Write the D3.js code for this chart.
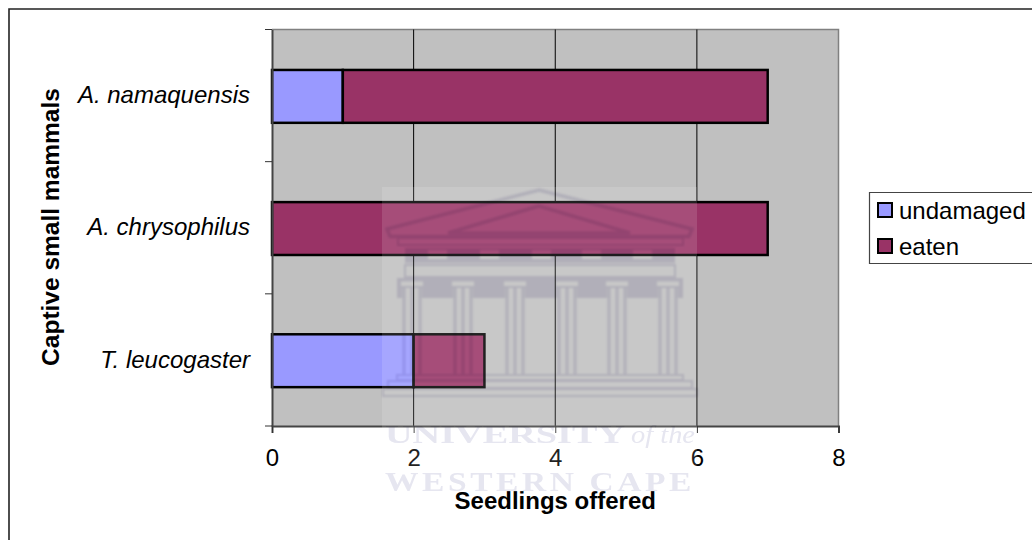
<!DOCTYPE html>
<html>
<head>
<meta charset="utf-8">
<script src="https://cdn.jsdelivr.net/npm/d3@7/dist/d3.min.js"></script>
<style>
html,body{margin:0;padding:0;background:#fff}
svg{display:block}
text{font-family:"Liberation Sans",Arial,sans-serif;fill:#000}
</style>
</head>
<body>
<svg id="chart" width="1032" height="540"></svg>
<script>
// Seedling fate per captive small mammal species
const species = ["A. namaquensis", "A. chrysophilus", "T. leucogaster"];
const undamaged = [1, 0, 2];
const eaten = [6, 7, 1];
const seriesNames = ["undamaged", "eaten"];
const seriesColors = ["#9999ff", "#993366"];
const xTickValues = [0, 2, 4, 6, 8];
const xTitle = "Seedlings offered";
const yTitle = "Captive small mammals";

const svg = d3.select("#chart");
const plot = {left: 272, right: 838.5, top: 29.5, bottom: 426};

const x = d3.scaleLinear().domain([0, 8]).range([plot.left, plot.right]);
const y = d3.scaleBand().domain(species).range([plot.top, plot.bottom])
  .paddingInner(0.6).paddingOuter(0.3);

// Outer chart frame: only the top and left edges are drawn
svg.append("path")
  .attr("d", "M9,540V9H1032")
  .attr("fill", "none").attr("stroke", "#222").attr("stroke-width", 1.6);

// Plot area
svg.append("rect")
  .attr("x", plot.left).attr("y", plot.top)
  .attr("width", plot.right - plot.left).attr("height", plot.bottom - plot.top)
  .attr("fill", "#c0c0c0");
svg.append("path")
  .attr("d", `M${plot.left},${plot.top}H${plot.right}V${plot.bottom}`)
  .attr("fill", "none").attr("stroke", "#808080").attr("stroke-width", 1.5);

// Vertical gridlines
svg.append("g").selectAll("line")
  .data(xTickValues.slice(1, -1))
  .join("line")
  .attr("x1", d => x(d)).attr("x2", d => x(d))
  .attr("y1", plot.top).attr("y2", plot.bottom)
  .attr("stroke", "#000").attr("stroke-width", 1);

// Stacked bars
const stacked = d3.stack().keys([0, 1]).value((row, k) => row[k])(
  species.map((_, i) => [undamaged[i], eaten[i]])
);
stacked.forEach((layer, k) => {
  svg.append("g").selectAll("rect")
    .data(layer.map((seg, i) => ({seg, name: species[i]})).filter(d => d.seg[1] > d.seg[0]))
    .join("rect")
    .attr("x", d => x(d.seg[0]))
    .attr("y", d => y(d.name) + 0.8)
    .attr("width", d => x(d.seg[1]) - x(d.seg[0]))
    .attr("height", y.bandwidth())
    .attr("fill", seriesColors[k])
    .attr("stroke", "#000").attr("stroke-width", 2.5);
});

// Axes
const xAxis = svg.append("g")
  .attr("transform", `translate(0,${plot.bottom})`)
  .call(d3.axisBottom(x).tickValues(xTickValues).tickSize(7).tickPadding(16).tickFormat(d3.format("d")));
xAxis.selectAll(".domain").attr("stroke", "#444").attr("stroke-width", 2);
xAxis.selectAll("line").attr("stroke", "#333").attr("stroke-width", 1);
xAxis.selectAll("text").style("font-size", "24px").attr("fill", "#000");

const yAxis = svg.append("g")
  .attr("transform", `translate(${plot.left},0)`)
  .call(d3.axisLeft(y).tickSize(0).tickPadding(22));
yAxis.selectAll(".domain").attr("stroke", "#444").attr("stroke-width", 2);
yAxis.selectAll("text").style("font-size", "24px").style("font-style", "italic").attr("fill", "#000");

// Category separators sit on the band edges
const edges = d3.range(species.length + 1).map(i => plot.top + (plot.bottom - plot.top) * i / species.length);
svg.append("g").selectAll("line")
  .data(edges)
  .join("line")
  .attr("x1", plot.left - 7).attr("x2", plot.left)
  .attr("y1", d => d).attr("y2", d => d)
  .attr("stroke", "#333").attr("stroke-width", 1);

// Axis titles
svg.append("text")
  .attr("x", x(4)).attr("y", 509)
  .attr("text-anchor", "middle")
  .style("font-size", "24px").style("font-weight", "bold")
  .text(xTitle);
svg.append("text")
  .attr("transform", `translate(59,227) rotate(-90)`)
  .attr("text-anchor", "middle")
  .style("font-size", "24.5px").style("font-weight", "bold")
  .text(yTitle);

// Legend
const legend = svg.append("g");
legend.append("path")
  .attr("d", "M1032,192.5H869.5V263.5H1032")
  .attr("fill", "#fff").attr("stroke", "#444").attr("stroke-width", 1.2);
const legendRows = legend.selectAll("g").data(seriesNames).join("g")
  .attr("transform", (d, i) => `translate(0,${210 + i * 36})`);
legendRows.append("rect")
  .attr("x", 878).attr("y", -7).attr("width", 14).attr("height", 14)
  .attr("fill", (d, i) => seriesColors[i])
  .attr("stroke", "#000").attr("stroke-width", 2);
legendRows.append("text")
  .attr("x", 899).attr("y", 8.5)
  .style("font-size", "24px")
  .text(d => d);

// University crest overlaid on the whole chart
const crest = svg.append("g");
crest.append("rect")
  .attr("x", 382).attr("y", 187).attr("width", 315).attr("height", 305)
  .attr("fill", "#fff").attr("opacity", 0.13);

const ink = "#e2e0ec";
const inkLayer = crest.append("g")
  .style("mix-blend-mode", "multiply")
  .style("filter", "blur(0.8px)");

// Pediment: outer and inner triangles
inkLayer.append("path")
  .attr("d", "M539,190L692,229L689,236.5H390L387,229Z")
  .attr("fill", "none").attr("stroke", ink).attr("stroke-width", 3.5);
inkLayer.append("path")
  .attr("d", "M539,206L448,233H630Z")
  .attr("fill", "none").attr("stroke", ink).attr("stroke-width", 3.5);

// Cornice
inkLayer.append("rect").attr("x", 398).attr("y", 238).attr("width", 285).attr("height", 7)
  .attr("fill", "none").attr("stroke", ink).attr("stroke-width", 2);

// Frieze with light metopes
inkLayer.append("rect").attr("x", 405).attr("y", 248).attr("width", 270).attr("height", 15).attr("fill", ink);
const metopes = [428, 480, 532, 582, 633];
inkLayer.append("g").selectAll("rect").data(metopes).join("rect")
  .attr("x", d => d).attr("y", 250).attr("width", 19).attr("height", 9).attr("fill", "#fff");

// Architrave and capital band
inkLayer.append("rect").attr("x", 405).attr("y", 265).attr("width", 270).attr("height", 12)
  .attr("fill", "none").attr("stroke", ink).attr("stroke-width", 2);
inkLayer.append("rect").attr("x", 397).attr("y", 278).attr("width", 286).attr("height", 20).attr("fill", ink);

// Fluted columns with pale capitals
const columns = [412, 463, 515, 567, 617, 668];
const colGroups = inkLayer.append("g").selectAll("g").data(columns).join("g")
  .attr("transform", d => `translate(${d},0)`);
colGroups.append("rect").attr("x", -11).attr("y", 281.5).attr("width", 22).attr("height", 4.5).attr("fill", "#fff");
colGroups.append("rect").attr("x", -9.5).attr("y", 288).attr("width", 19).attr("height", 10).attr("fill", "#fff");
[-9.5, -1.5, 6.5].forEach(offset => {
  colGroups.append("rect").attr("x", offset).attr("y", 288).attr("width", 3).attr("height", 87).attr("fill", ink);
});

// Stepped base
const steps = [[397, 286, 375, 5], [388, 304, 381, 7], [383, 314, 389, 7]];
inkLayer.append("g").selectAll("rect").data(steps).join("rect")
  .attr("x", d => d[0]).attr("y", d => d[2]).attr("width", d => d[1]).attr("height", d => d[3])
  .attr("fill", "none").attr("stroke", ink).attr("stroke-width", 2);

// Crest wordmark
const wordmark = crest.append("g").style("mix-blend-mode", "multiply").style("filter", "blur(0.6px)");
const serif = '"Liberation Serif","DejaVu Serif",serif';
const wordInk = "#e6e6f0";
wordmark.append("text").attr("x", 385).attr("y", 443)
  .attr("textLength", 240).attr("lengthAdjust", "spacingAndGlyphs")
  .style("font-family", serif).style("font-size", "26px").style("font-weight", "bold").style("fill", wordInk)
  .text("UNIVERSITY");
wordmark.append("text").attr("x", 631).attr("y", 443)
  .attr("textLength", 64).attr("lengthAdjust", "spacingAndGlyphs")
  .style("font-family", serif).style("font-size", "25px").style("font-style", "italic").style("fill", wordInk)
  .text("of the");
wordmark.append("text").attr("x", 385).attr("y", 491)
  .attr("textLength", 310).attr("lengthAdjust", "spacingAndGlyphs")
  .style("font-family", serif).style("font-size", "28px").style("font-weight", "bold").style("letter-spacing", "3px").style("fill", wordInk)
  .text("WESTERN CAPE");
</script>
</body>
</html>
